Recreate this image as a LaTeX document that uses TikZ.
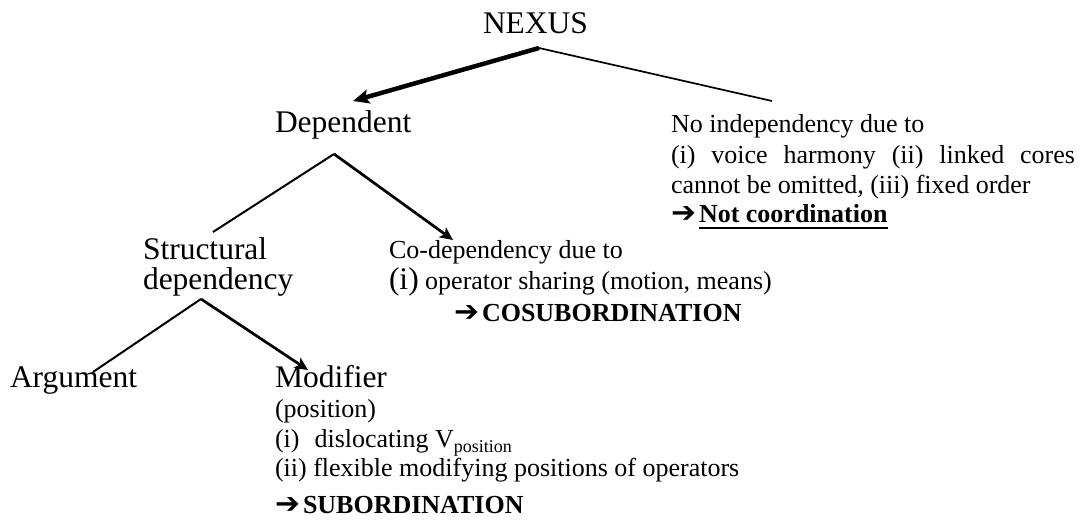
\documentclass[tikz,border=0pt]{standalone}
\usepackage{fontspec}
\usepackage{graphicx}
\setmainfont{Liberation Serif}
\newfontfamily\arrowsym{DejaVu Sans}
\usetikzlibrary{arrows.meta}

% text sizes
\newcommand\bigtxt{\fontsize{31.5}{36}\selectfont}
\newcommand\midtxt{\fontsize{26}{30}\selectfont}
\newcommand\subtxt{\fontsize{18}{20}\selectfont}
% heavy arrow that leads into a conclusion
\newcommand\goesto{\makebox[28pt][l]{\resizebox{25pt}{16pt}{\arrowsym ➔}}}
% thick underline
\newcommand\ulrule[1]{\setbox0\hbox{#1}\rlap{\rule[-7pt]{\wd0}{2pt}}\box0}

\begin{document}
\begin{tikzpicture}[x=1pt,y=-1pt,
  every node/.style={inner sep=0pt,outer sep=0pt,anchor=base west},
  head/.style={font=\bigtxt},
  lbl/.style={font=\midtxt},
  link/.style={line width=2pt},
  thinlink/.style={line width=1.7pt},
  arrowlink/.style={line width=2.7pt,-{Stealth[length=13pt,width=12pt,inset=3pt]}},
  mainarrow/.style={line width=4.5pt,-{Stealth[length=16pt,width=14pt,inset=3pt]}}]
\useasboundingbox (0,0) rectangle (1082,527);

% labels
\node[head] (nexus) at (483,34) {NEXUS};
\node[head] (dependent) at (275,132) {Dependent};
\node[lbl] (noind1) at (671,132) {No independency due to};
\node[lbl] (noind2) at (671,163) {\makebox[404pt][s]{(i) voice harmony (ii) linked cores}};
\node[lbl] (noind3) at (671,193) {cannot be omitted, (iii) fixed order};
\node[lbl] (noind4) at (671,222) {\goesto\ulrule{\bfseries Not coordination}};
\node[head] (struct1) at (143,259) {Structural};
\node[head] (struct2) at (143,289) {dependency};
\node[lbl] (codep1) at (389,258) {Co-dependency due to};
\node[lbl] (codep2) at (389,289) {{\bigtxt(i)} operator sharing (motion, means)};
\node[lbl] (cosub) at (454,321) {\goesto\textbf{COSUBORDINATION}};
\node[head] (argument) at (10,387) {Argument};
\node[head] (modifier) at (275,387) {Modifier};
\node[lbl] (mod1) at (275,417) {(position)};
\node[lbl] (mod2) at (275,447) {(i)\hspace{8.5pt} dislocating V\raisebox{-5pt}{\subtxt position}};
\node[lbl] (mod3) at (275,476) {(ii) flexible modifying positions of operators};
\node[lbl] (sub) at (275,513) {\goesto\textbf{SUBORDINATION}};

% branch points and branch ends
\coordinate (nexusfoot) at (539,48);
\coordinate (deptop) at (353,101);
\coordinate (noindtop) at (772,101);
\coordinate (depfoot) at (334,154);
\coordinate (structtop) at (213,232);
\coordinate (codeptop) at (453,240);
\coordinate (structfoot) at (201,299);
\coordinate (argtop) at (93,372);
\coordinate (modtop) at (308,370);

% branches
\draw[mainarrow] (nexusfoot) -- (deptop);
\draw[thinlink] (nexusfoot) -- (noindtop);
\draw[link] (depfoot) -- (structtop);
\draw[arrowlink] (depfoot) -- (codeptop);
\draw[link] (structfoot) -- (argtop);
\draw[arrowlink] (structfoot) -- (modtop);
\end{tikzpicture}
\end{document}
